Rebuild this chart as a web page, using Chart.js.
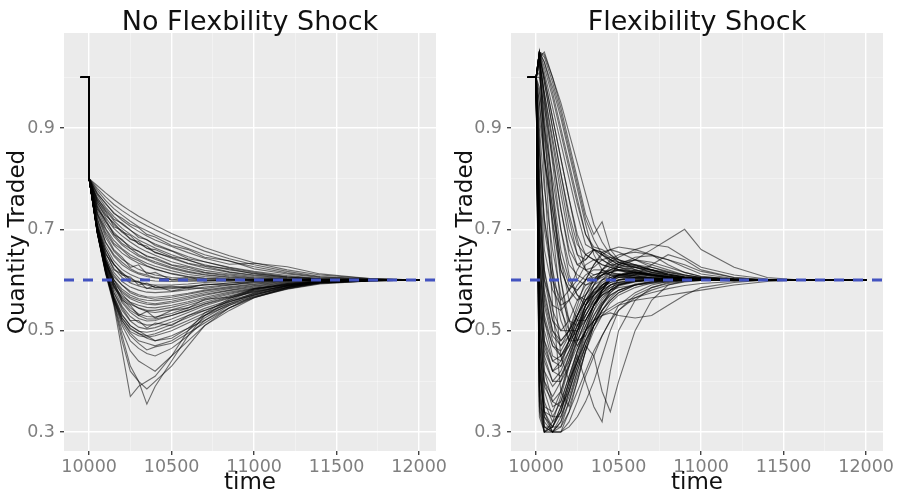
<!DOCTYPE html>
<html><head><meta charset="utf-8">
<script src="https://cdn.jsdelivr.net/npm/chart.js@4/dist/chart.umd.min.js"></script>
<style>
html,body{margin:0;padding:0;background:#fff;}
#wrap{position:relative;width:900px;height:495px;}
canvas{position:absolute;top:0;}
</style></head><body>
<div id="wrap"><canvas id="c1" width="450" height="495" style="left:0"></canvas><canvas id="c2" width="450" height="495" style="left:450px"></canvas></div>
<script>
const panelTitles = ["No Flexbility Shock", "Flexibility Shock"];
const xAxisTitle = "time";
const yAxisTitle = "Quantity Traded";
const xTickValues = [10000, 10500, 11000, 11500, 12000];
const xMinorValues = [10250, 10750, 11250, 11750];
const yTickValues = [0.3, 0.5, 0.7, 0.9];
const yMinorValues = [0.4, 0.6, 0.8, 1.0];
const xRange = [9848, 12102];
const yRange = [0.2625, 1.0875];
const equilibrium = 0.6;
const preShockTimes = [9950, 10000];
const preShockValues = [1.0, 1.0];

// No flexibility shock: all paths restart at 0.8 at t=10000
const noShockTimes = [10000, 10050, 10100, 10150, 10200, 10250, 10300, 10350, 10400, 10500, 10600, 10700, 10850, 11000, 11200, 11400, 11700, 12000];
const noShockPaths = [
  [.80,.786,.772,.759,.747,.736,.726,.717,.708,.692,.678,.664,.648,.634,.62,.61,.603,.60],
  [.80,.781,.764,.749,.737,.726,.716,.707,.699,.684,.67,.657,.642,.63,.617,.607,.602,.60],
  [.80,.777,.757,.741,.728,.716,.705,.697,.689,.674,.662,.65,.637,.626,.614,.606,.602,.60],
  [.80,.772,.75,.733,.718,.706,.696,.687,.679,.666,.654,.643,.631,.633,.626,.612,.603,.60],
  [.80,.768,.744,.725,.71,.698,.688,.679,.671,.658,.646,.636,.625,.617,.609,.603,.601,.60],
  [.80,.763,.737,.717,.702,.69,.679,.671,.663,.65,.639,.63,.62,.613,.606,.602,.601,.60],
  [.80,.758,.73,.71,.694,.682,.672,.663,.655,.643,.632,.624,.615,.609,.604,.601,.60,.60],
  [.80,.754,.723,.702,.687,.675,.664,.656,.649,.636,.627,.619,.612,.607,.603,.601,.60,.60],
  [.80,.749,.716,.694,.678,.666,.656,.648,.641,.629,.621,.614,.608,.604,.602,.60,.60,.60],
  [.80,.744,.709,.686,.669,.657,.647,.64,.633,.623,.615,.61,.605,.602,.601,.60,.60,.60],
  [.80,.739,.702,.678,.662,.65,.641,.633,.627,.618,.611,.607,.603,.601,.60,.60,.60,.60],
  [.80,.734,.694,.669,.653,.642,.633,.627,.621,.613,.607,.604,.602,.60,.60,.60,.60,.60],
  [.80,.77,.752,.731,.722,.71,.703,.69,.685,.668,.66,.645,.638,.622,.612,.605,.601,.60],
  [.80,.76,.741,.72,.712,.699,.684,.68,.668,.657,.642,.636,.624,.615,.607,.603,.601,.60],
  [.80,.752,.727,.713,.695,.688,.671,.667,.654,.645,.633,.627,.616,.61,.605,.602,.60,.60],
  [.80,.757,.735,.705,.698,.68,.676,.662,.66,.646,.64,.628,.622,.612,.606,.602,.60,.60],
  [.80,.74,.72,.69,.68,.662,.657,.646,.644,.63,.625,.615,.61,.605,.602,.601,.60,.60],
  [.80,.745,.715,.69,.672,.662,.65,.642,.636,.625,.617,.611,.606,.603,.601,.60,.60,.60],
  [.80,.73,.70,.672,.66,.645,.638,.628,.622,.612,.606,.603,.601,.60,.60,.60,.60,.60],
  [.80,.728,.684,.657,.641,.63,.621,.615,.61,.605,.603,.602,.601,.60,.60,.60,.60,.60],
  [.80,.722,.674,.647,.63,.619,.612,.607,.604,.602,.601,.60,.60,.60,.60,.60,.60,.60],
  [.80,.72,.675,.65,.635,.622,.614,.61,.605,.60,.598,.598,.599,.60,.60,.60,.60,.60],
  [.80,.717,.667,.638,.621,.611,.604,.60,.598,.597,.598,.599,.60,.60,.60,.60,.60,.60],
  [.80,.712,.661,.631,.613,.603,.596,.592,.59,.59,.592,.595,.597,.599,.60,.60,.60,.60],
  [.80,.708,.66,.63,.615,.60,.595,.59,.586,.585,.588,.59,.594,.597,.599,.60,.60,.60],
  [.80,.706,.653,.623,.605,.594,.588,.584,.582,.583,.586,.59,.594,.597,.599,.60,.60,.60],
  [.80,.704,.646,.615,.597,.586,.58,.576,.575,.577,.581,.586,.591,.595,.598,.60,.60,.60],
  [.80,.702,.64,.61,.59,.578,.571,.567,.566,.569,.574,.58,.587,.592,.597,.599,.60,.60],
  [.80,.70,.64,.606,.59,.575,.568,.565,.562,.566,.572,.578,.585,.591,.596,.599,.60,.60],
  [.80,.70,.635,.601,.582,.57,.563,.56,.559,.562,.568,.575,.583,.589,.595,.598,.60,.60],
  [.80,.70,.632,.60,.578,.566,.56,.555,.553,.558,.565,.572,.58,.588,.594,.598,.60,.60],
  [.80,.699,.63,.594,.575,.563,.556,.552,.551,.555,.562,.57,.579,.586,.593,.597,.599,.60],
  [.80,.698,.628,.588,.568,.556,.55,.546,.545,.55,.557,.566,.576,.584,.592,.597,.599,.60],
  [.80,.697,.625,.585,.565,.552,.545,.54,.54,.546,.554,.563,.574,.583,.591,.596,.599,.60],
  [.80,.71,.65,.632,.61,.606,.59,.594,.585,.588,.584,.592,.59,.597,.599,.60,.60,.60],
  [.80,.705,.655,.62,.612,.596,.598,.583,.589,.578,.585,.583,.59,.594,.598,.60,.60,.60],
  [.80,.73,.69,.66,.645,.625,.63,.612,.615,.60,.606,.598,.60,.60,.60,.60,.60,.60],
  [.80,.705,.645,.60,.572,.555,.544,.538,.536,.541,.55,.56,.572,.582,.591,.596,.599,.60],
  [.80,.703,.64,.594,.563,.545,.533,.528,.527,.534,.545,.556,.569,.58,.59,.596,.599,.60],
  [.80,.70,.635,.588,.555,.536,.524,.519,.52,.53,.541,.553,.567,.578,.589,.595,.599,.60],
  [.80,.70,.638,.59,.558,.54,.53,.523,.523,.53,.54,.552,.565,.577,.588,.595,.599,.60],
  [.80,.698,.632,.582,.548,.528,.516,.511,.512,.523,.536,.549,.564,.576,.588,.595,.599,.60],
  [.80,.697,.628,.576,.54,.519,.507,.503,.506,.517,.53,.544,.56,.573,.586,.594,.598,.60],
  [.80,.695,.624,.57,.532,.51,.499,.497,.50,.512,.526,.54,.557,.571,.585,.594,.598,.60],
  [.80,.694,.62,.565,.525,.503,.494,.49,.494,.506,.52,.535,.553,.568,.583,.593,.598,.60],
  [.80,.693,.618,.56,.52,.498,.49,.487,.49,.50,.515,.53,.55,.566,.582,.592,.598,.60],
  [.80,.70,.635,.595,.56,.55,.53,.538,.525,.54,.545,.562,.566,.583,.59,.597,.599,.60],
  [.80,.696,.625,.575,.545,.52,.52,.505,.515,.51,.53,.54,.558,.57,.586,.595,.599,.60],
  [.80,.694,.62,.565,.525,.505,.495,.485,.48,.49,.505,.52,.545,.565,.583,.594,.599,.60],
  [.80,.693,.617,.56,.515,.49,.475,.462,.468,.475,.495,.515,.545,.567,.585,.595,.599,.60],
  [.80,.692,.615,.555,.49,.43,.40,.355,.39,.44,.49,.53,.56,.58,.592,.597,.599,.60],
  [.80,.692,.612,.55,.46,.37,.39,.40,.41,.45,.50,.535,.563,.582,.593,.598,.60,.60],
  [.80,.692,.614,.553,.48,.42,.40,.385,.40,.43,.47,.51,.545,.57,.588,.596,.599,.60],
  [.80,.693,.616,.557,.50,.46,.44,.43,.42,.45,.48,.51,.54,.565,.585,.595,.599,.60],
  [.80,.694,.618,.56,.51,.48,.465,.455,.45,.465,.49,.52,.55,.572,.588,.596,.599,.60],
  [.80,.695,.62,.563,.52,.495,.48,.475,.47,.48,.50,.525,.553,.574,.589,.596,.599,.60],
  [.80,.696,.622,.567,.53,.51,.50,.49,.48,.485,.505,.53,.556,.575,.59,.597,.599,.60]
];

// Flexibility shock: paths jump away from 1.0 right after t=10000
const shockTimes = [10020, 10050, 10100, 10150, 10200, 10250, 10300, 10350, 10400, 10450, 10500, 10600, 10700, 10800, 10900, 11000, 11200, 11400, 11600, 12000];
const shockPaths = [
  [1.05,1.045,1.0,.95,.89,.83,.77,.71,.675,.65,.635,.625,.615,.61,.606,.604,.602,.60,.60,.60],
  [1.05,1.01,.94,.87,.80,.73,.67,.66,.655,.64,.63,.62,.612,.607,.604,.602,.601,.60,.60,.60],
  [1.04,1.05,1.0,.94,.87,.80,.73,.69,.715,.66,.64,.62,.61,.605,.603,.602,.601,.60,.60,.60],
  [1.05,.99,.90,.81,.73,.67,.65,.64,.63,.625,.62,.615,.61,.606,.604,.602,.60,.60,.60,.60],
  [1.03,.97,.88,.79,.70,.65,.64,.66,.65,.64,.63,.625,.618,.61,.605,.603,.601,.60,.60,.60],
  [1.05,.96,.83,.70,.63,.61,.60,.605,.61,.615,.612,.608,.605,.603,.601,.60,.60,.60,.60,.60],
  [1.02,.92,.78,.66,.60,.57,.56,.57,.585,.60,.61,.62,.615,.61,.605,.602,.60,.60,.60,.60],
  [1.04,.96,.85,.74,.66,.63,.64,.66,.65,.635,.625,.615,.608,.604,.602,.601,.60,.60,.60,.60],
  [.98,.88,.74,.62,.58,.56,.57,.59,.61,.625,.635,.64,.63,.62,.61,.605,.602,.60,.60,.60],
  [1.01,.90,.76,.64,.59,.58,.60,.63,.655,.66,.655,.64,.625,.615,.608,.604,.601,.60,.60,.60],
  [.95,.84,.71,.62,.58,.60,.63,.64,.64,.63,.62,.61,.605,.603,.601,.60,.60,.60,.60,.60],
  [1.05,1.03,.97,.90,.83,.76,.69,.665,.66,.65,.64,.63,.62,.61,.605,.603,.601,.60,.60,.60],
  [1.05,1.02,.96,.89,.82,.75,.69,.66,.64,.63,.625,.618,.61,.606,.603,.601,.60,.60,.60,.60],
  [1.04,1.0,.92,.84,.76,.69,.65,.64,.63,.625,.62,.615,.61,.605,.603,.601,.60,.60,.60,.60],
  [1.05,.99,.90,.81,.72,.65,.62,.61,.615,.62,.618,.613,.607,.604,.602,.60,.60,.60,.60,.60],
  [1.03,.97,.87,.77,.68,.63,.62,.625,.64,.645,.64,.63,.62,.612,.606,.603,.60,.60,.60,.60],
  [1.0,.94,.84,.74,.65,.60,.59,.595,.61,.62,.625,.628,.62,.612,.606,.603,.60,.60,.60,.60],
  [.97,.90,.80,.70,.61,.57,.55,.57,.59,.605,.61,.612,.608,.604,.602,.60,.60,.60,.60,.60],
  [.92,.84,.74,.64,.56,.52,.52,.55,.58,.60,.61,.615,.61,.605,.602,.60,.60,.60,.60,.60],
  [1.05,1.04,.99,.93,.86,.79,.72,.68,.65,.64,.635,.628,.62,.612,.606,.603,.601,.60,.60,.60],
  [1.05,1.03,.98,.92,.85,.78,.71,.65,.62,.61,.608,.605,.603,.602,.601,.60,.60,.60,.60,.60],
  [1.04,1.0,.92,.84,.76,.68,.62,.60,.605,.615,.62,.617,.61,.605,.602,.60,.60,.60,.60,.60],
  [.90,.78,.66,.57,.52,.51,.53,.56,.585,.60,.608,.612,.61,.606,.603,.601,.60,.60,.60,.60],
  [.85,.72,.60,.52,.48,.48,.51,.55,.58,.60,.61,.615,.612,.607,.603,.601,.60,.60,.60,.60],
  [.95,.85,.72,.60,.52,.48,.49,.52,.55,.575,.59,.60,.602,.601,.60,.60,.60,.60,.60,.60],
  [.86,.72,.62,.54,.50,.50,.52,.55,.575,.59,.60,.605,.604,.602,.60,.60,.60,.60,.60,.60],
  [1.05,.90,.70,.55,.48,.50,.55,.59,.62,.64,.65,.655,.65,.64,.625,.612,.603,.60,.60,.60],
  [1.04,.85,.62,.45,.40,.44,.50,.55,.58,.60,.61,.615,.612,.607,.604,.602,.60,.60,.60,.60],
  [1.05,.80,.55,.38,.35,.40,.46,.51,.55,.58,.60,.61,.61,.606,.603,.601,.60,.60,.60,.60],
  [1.03,.95,.78,.60,.50,.47,.50,.54,.58,.61,.63,.645,.648,.64,.63,.617,.605,.60,.60,.60],
  [.80,.62,.52,.48,.50,.55,.60,.63,.65,.66,.665,.66,.65,.63,.615,.607,.602,.60,.60,.60],
  [.75,.58,.50,.47,.49,.53,.57,.60,.62,.635,.645,.66,.67,.665,.645,.625,.61,.602,.60,.60],
  [.70,.55,.48,.45,.47,.51,.55,.58,.60,.615,.625,.64,.66,.68,.70,.66,.625,.605,.60,.60],
  [.72,.56,.49,.47,.50,.54,.58,.60,.61,.615,.62,.625,.62,.615,.61,.605,.602,.60,.60,.60],
  [.68,.53,.47,.45,.48,.52,.56,.59,.60,.605,.61,.615,.61,.607,.604,.602,.601,.60,.60,.60],
  [.65,.52,.45,.44,.47,.51,.55,.575,.59,.60,.605,.61,.63,.65,.64,.62,.605,.601,.60,.60],
  [.78,.60,.52,.50,.52,.56,.59,.60,.61,.62,.63,.64,.635,.625,.615,.607,.602,.60,.60,.60],
  [.76,.62,.54,.50,.50,.53,.56,.58,.595,.605,.61,.608,.604,.602,.60,.60,.60,.60,.60,.60],
  [.66,.50,.44,.43,.46,.50,.54,.57,.59,.60,.60,.60,.60,.60,.60,.60,.60,.60,.60,.60],
  [.74,.60,.55,.54,.56,.59,.61,.62,.62,.615,.61,.605,.603,.602,.601,.60,.60,.60,.60,.60],
  [.82,.66,.58,.55,.56,.58,.60,.61,.615,.61,.607,.604,.602,.601,.60,.60,.60,.60,.60,.60],
  [.88,.70,.60,.56,.58,.62,.65,.66,.655,.645,.635,.625,.615,.608,.604,.602,.60,.60,.60,.60],
  [.62,.48,.42,.43,.48,.53,.57,.60,.62,.63,.632,.63,.625,.617,.61,.605,.601,.60,.60,.60],
  [.60,.48,.44,.45,.48,.51,.54,.56,.575,.585,.593,.598,.60,.60,.60,.60,.60,.60,.60,.60],
  [.56,.46,.42,.44,.48,.52,.55,.57,.585,.595,.60,.605,.604,.602,.60,.60,.60,.60,.60,.60],
  [.55,.44,.40,.42,.46,.50,.53,.555,.57,.58,.59,.597,.60,.60,.60,.60,.60,.60,.60,.60],
  [.52,.42,.39,.41,.45,.49,.53,.56,.58,.59,.595,.60,.60,.60,.60,.60,.60,.60,.60,.60],
  [.50,.40,.37,.40,.45,.50,.54,.565,.58,.59,.596,.60,.60,.60,.60,.60,.60,.60,.60,.60],
  [.47,.39,.36,.38,.43,.48,.52,.55,.57,.585,.592,.598,.60,.60,.60,.60,.60,.60,.60,.60],
  [.64,.52,.47,.46,.49,.53,.56,.58,.59,.60,.605,.606,.604,.602,.60,.60,.60,.60,.60,.60],
  [.70,.57,.50,.48,.50,.53,.56,.575,.585,.595,.60,.603,.602,.601,.60,.60,.60,.60,.60,.60],
  [.50,.34,.30,.32,.38,.44,.49,.53,.56,.58,.59,.598,.60,.60,.60,.60,.60,.60,.60,.60],
  [.45,.32,.30,.30,.34,.40,.46,.51,.54,.565,.58,.592,.597,.599,.60,.60,.60,.60,.60,.60],
  [.40,.31,.30,.31,.36,.42,.47,.52,.555,.575,.588,.596,.599,.60,.60,.60,.60,.60,.60,.60],
  [.55,.38,.33,.33,.37,.42,.47,.51,.54,.56,.575,.59,.596,.599,.60,.60,.60,.60,.60,.60],
  [.35,.30,.30,.30,.31,.33,.36,.40,.45,.50,.54,.57,.585,.593,.597,.599,.60,.60,.60,.60],
  [.60,.42,.36,.35,.38,.43,.48,.52,.55,.57,.58,.59,.595,.598,.60,.60,.60,.60,.60,.60],
  [.48,.36,.32,.34,.40,.46,.51,.55,.575,.59,.595,.598,.60,.60,.60,.60,.60,.60,.60,.60],
  [.38,.30,.31,.35,.40,.45,.40,.35,.32,.42,.50,.56,.585,.595,.599,.60,.60,.60,.60,.60],
  [.42,.33,.31,.34,.39,.44,.48,.51,.53,.535,.53,.525,.53,.55,.57,.585,.595,.60,.60,.60],
  [.52,.40,.35,.36,.41,.46,.50,.52,.53,.54,.55,.56,.565,.57,.575,.58,.59,.597,.60,.60],
  [.58,.45,.40,.40,.43,.47,.50,.52,.535,.545,.555,.565,.575,.583,.589,.593,.597,.60,.60,.60],
  [.62,.47,.42,.41,.44,.48,.52,.55,.57,.58,.585,.59,.593,.596,.598,.60,.60,.60,.60,.60],
  [.33,.30,.30,.33,.38,.43,.47,.45,.38,.34,.40,.50,.56,.59,.598,.60,.60,.60,.60,.60],
  [.44,.34,.31,.31,.34,.38,.42,.46,.49,.52,.54,.565,.58,.59,.596,.599,.60,.60,.60,.60],
  [.42,.34,.33,.36,.41,.46,.50,.53,.555,.57,.58,.59,.596,.599,.60,.60,.60,.60,.60,.60],
  [.37,.31,.31,.35,.40,.44,.48,.51,.54,.56,.575,.59,.597,.60,.60,.60,.60,.60,.60,.60],
  [.36,.30,.32,.37,.43,.49,.54,.57,.59,.60,.605,.603,.601,.60,.60,.60,.60,.60,.60,.60],
  [.46,.35,.34,.38,.44,.50,.55,.58,.60,.61,.612,.608,.604,.602,.60,.60,.60,.60,.60,.60],
  [.34,.30,.31,.34,.39,.45,.50,.54,.565,.58,.59,.597,.60,.60,.60,.60,.60,.60,.60,.60],
  [.39,.31,.30,.32,.36,.41,.46,.50,.53,.555,.57,.585,.594,.598,.60,.60,.60,.60,.60,.60],
  [.43,.33,.30,.30,.32,.36,.41,.45,.49,.52,.55,.575,.59,.597,.60,.60,.60,.60,.60,.60]
];

const FONT = "'DejaVu Sans', 'Liberation Sans', sans-serif";

const panelBg = {
  id: 'panelBg',
  beforeDraw(chart) {
    const a = chart.chartArea, ctx = chart.ctx;
    ctx.save();
    ctx.fillStyle = '#EBEBEB';
    ctx.fillRect(a.left, a.top, a.right - a.left, a.bottom - a.top);
    ctx.restore();
  }
};
const panelText = {
  id: 'panelText',
  afterDraw(chart, args, opts) {
    const a = chart.chartArea, ctx = chart.ctx;
    const cx = (a.left + a.right) / 2, cy = (a.top + a.bottom) / 2;
    ctx.save();
    ctx.fillStyle = '#111';
    ctx.textAlign = 'center';
    ctx.textBaseline = 'alphabetic';
    ctx.font = '27px ' + FONT;
    ctx.fillText(opts.title, cx, 30);
    ctx.font = '23px ' + FONT;
    ctx.fillText(xAxisTitle, cx, 489);
    ctx.translate(opts.yTitleX, cy);
    ctx.rotate(-Math.PI / 2);
    ctx.font = '23px ' + FONT;
    ctx.fillText(yAxisTitle, 0, 0);
    ctx.restore();
  }
};

function buildDatasets(times, paths) {
  const ds = [{
    data: [{x: xRange[0], y: equilibrium}, {x: xRange[1], y: equilibrium}],
    borderColor: '#4353C0', borderWidth: 3, borderDash: [10, 9], pointRadius: 0
  }];
  paths.forEach(p => {
    const pts = preShockTimes.map((t, i) => ({x: t, y: preShockValues[i]}));
    times.forEach((t, i) => pts.push({x: t, y: p[i]}));
    ds.push({data: pts, borderColor: 'rgba(0,0,0,0.55)', borderWidth: 1.1, pointRadius: 0, tension: 0});
  });
  return ds;
}

function makeChart(id, times, paths, title, yAxisWidth, rightPad, yTitleX) {
  const xAll = xTickValues.concat(xMinorValues).sort((a, b) => a - b);
  const yAll = yTickValues.concat(yMinorValues).sort((a, b) => a - b);
  const isMajorX = v => xTickValues.includes(v);
  const isMajorY = v => yTickValues.some(t => Math.abs(t - v) < 1e-9);
  return new Chart(document.getElementById(id), {
    type: 'line',
    data: {datasets: buildDatasets(times, paths)},
    plugins: [panelBg, panelText],
    options: {
      responsive: false, animation: false, devicePixelRatio: 1,
      parsing: false, normalized: true,
      layout: {padding: {left: 0, right: rightPad, top: 33, bottom: 0}},
      plugins: {legend: {display: false}, tooltip: {enabled: false}, title: {display: false},
        panelText: {title: title, yTitleX: yTitleX}},
      scales: {
        x: {
          type: 'linear', min: xRange[0], max: xRange[1],
          afterBuildTicks: s => { s.ticks = xAll.map(v => ({value: v})); },
          afterFit: s => { s.height = 44; },
          border: {display: false},
          grid: {
            color: c => (c.tick && isMajorX(c.tick.value)) ? '#FFFFFF' : 'rgba(255,255,255,0.55)',
            lineWidth: c => (c.tick && isMajorX(c.tick.value)) ? 1.4 : 0.7,
            tickColor: c => (c.tick && isMajorX(c.tick.value)) ? '#444' : 'rgba(0,0,0,0)',
            tickLength: 4, drawTicks: true
          },
          ticks: {
            autoSkip: false, maxRotation: 0, padding: 2, color: '#7f7f7f',
            font: {family: FONT, size: 17.5},
            callback: v => isMajorX(v) ? String(v) : ''
          }
        },
        y: {
          type: 'linear', min: yRange[0], max: yRange[1],
          afterBuildTicks: s => { s.ticks = yAll.map(v => ({value: v})); },
          afterFit: s => { s.width = yAxisWidth; },
          border: {display: false},
          grid: {
            color: c => (c.tick && isMajorY(c.tick.value)) ? '#FFFFFF' : 'rgba(255,255,255,0.55)',
            lineWidth: c => (c.tick && isMajorY(c.tick.value)) ? 1.4 : 0.7,
            tickColor: c => (c.tick && isMajorY(c.tick.value)) ? '#444' : 'rgba(0,0,0,0)',
            tickLength: 4, drawTicks: true
          },
          ticks: {
            autoSkip: false, padding: 5, color: '#7f7f7f',
            font: {family: FONT, size: 17.5},
            callback: v => isMajorY(v) ? v.toFixed(1) : ''
          }
        }
      }
    }
  });
}

makeChart('c1', noShockTimes, noShockPaths, panelTitles[0], 64, 14, 24);
makeChart('c2', shockTimes, shockPaths, panelTitles[1], 61, 17, 22);
</script>
</body></html>
